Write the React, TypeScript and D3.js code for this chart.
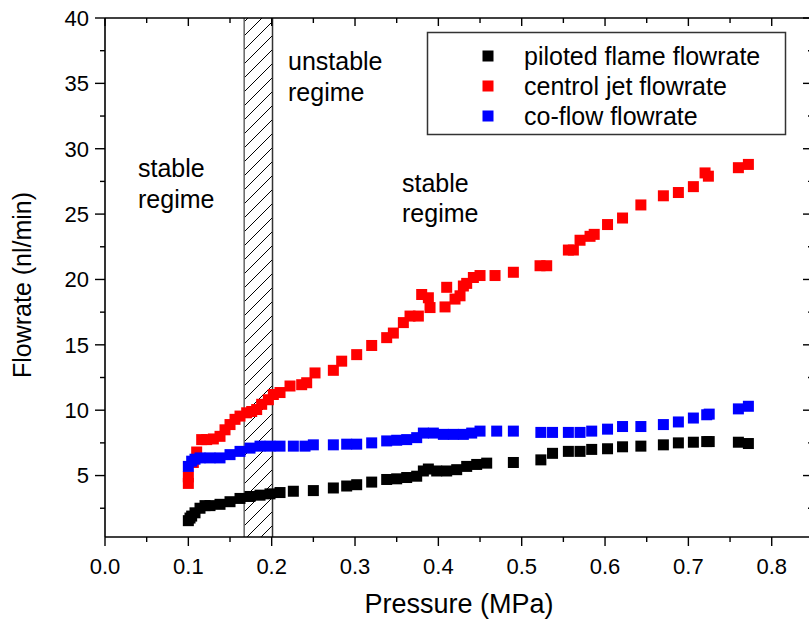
import React from "react";
import * as d3 from "d3";

const xTicks = [0, 0.1, 0.2, 0.3, 0.4, 0.5, 0.6, 0.7, 0.8];
const yTicks = [5, 10, 15, 20, 25, 30, 35, 40];

const pilotP = [0.100, 0.102, 0.104, 0.108, 0.114, 0.120, 0.126, 0.138, 0.150, 0.162, 0.174, 0.186, 0.198, 0.210, 0.226, 0.250, 0.274, 0.290, 0.302, 0.320, 0.338, 0.350, 0.362, 0.374, 0.382, 0.388, 0.398, 0.410, 0.422, 0.434, 0.446, 0.458, 0.490, 0.523, 0.537, 0.556, 0.570, 0.584, 0.603, 0.621, 0.643, 0.670, 0.688, 0.706, 0.722, 0.725, 0.760, 0.772];
const pilotV = [1.55, 1.75, 1.9, 2.15, 2.5, 2.7, 2.7, 2.8, 3.0, 3.25, 3.4, 3.5, 3.6, 3.7, 3.8, 3.85, 4.05, 4.2, 4.3, 4.5, 4.7, 4.75, 4.85, 4.95, 5.35, 5.5, 5.35, 5.35, 5.45, 5.7, 5.85, 5.95, 6.0, 6.2, 6.7, 6.85, 6.85, 7.0, 7.05, 7.2, 7.25, 7.35, 7.5, 7.55, 7.6, 7.6, 7.55, 7.45];

const jetP = [0.100, 0.100, 0.106, 0.110, 0.116, 0.122, 0.130, 0.138, 0.144, 0.150, 0.156, 0.162, 0.170, 0.176, 0.182, 0.188, 0.196, 0.202, 0.210, 0.222, 0.236, 0.242, 0.252, 0.274, 0.284, 0.302, 0.320, 0.338, 0.346, 0.358, 0.366, 0.376, 0.380, 0.388, 0.390, 0.408, 0.410, 0.420, 0.426, 0.430, 0.434, 0.442, 0.450, 0.468, 0.490, 0.522, 0.530, 0.556, 0.562, 0.570, 0.582, 0.587, 0.603, 0.621, 0.643, 0.670, 0.688, 0.706, 0.720, 0.724, 0.760, 0.772];
const jetV = [4.4, 4.9, 6.0, 6.8, 7.75, 7.75, 7.8, 8.0, 8.5, 8.9, 9.3, 9.55, 9.8, 9.9, 10.05, 10.45, 10.8, 11.2, 11.35, 11.85, 11.95, 12.1, 12.85, 13.05, 13.75, 14.25, 14.95, 15.55, 15.9, 16.7, 17.2, 17.2, 18.85, 18.6, 17.85, 17.9, 19.4, 18.5, 18.75, 19.5, 19.7, 20.15, 20.3, 20.3, 20.55, 21.05, 21.05, 22.25, 22.25, 23.0, 23.3, 23.45, 24.2, 24.7, 25.7, 26.4, 26.65, 27.1, 28.15, 27.9, 28.55, 28.8];

const coP = [0.100, 0.104, 0.108, 0.114, 0.126, 0.138, 0.150, 0.162, 0.174, 0.186, 0.198, 0.210, 0.226, 0.240, 0.250, 0.274, 0.290, 0.302, 0.320, 0.338, 0.350, 0.362, 0.374, 0.382, 0.394, 0.406, 0.418, 0.430, 0.440, 0.450, 0.470, 0.490, 0.523, 0.537, 0.556, 0.570, 0.584, 0.603, 0.621, 0.643, 0.670, 0.688, 0.706, 0.722, 0.725, 0.760, 0.772];
const coV = [5.7, 6.1, 6.25, 6.35, 6.35, 6.35, 6.6, 6.85, 7.1, 7.25, 7.25, 7.25, 7.25, 7.25, 7.35, 7.35, 7.4, 7.4, 7.5, 7.65, 7.7, 7.75, 7.9, 8.25, 8.25, 8.15, 8.15, 8.15, 8.25, 8.4, 8.4, 8.4, 8.3, 8.3, 8.3, 8.3, 8.4, 8.55, 8.75, 8.75, 8.9, 9.1, 9.4, 9.65, 9.7, 10.1, 10.3];

const seriesNames = ["piloted flame flowrate", "centrol jet flowrate", "co-flow flowrate"];
const seriesColors = ["#000000", "#ff0000", "#0000ff"];
const unstableRange = [0.167, 0.201];

const FONT = "'Liberation Sans', Arial, Helvetica, sans-serif";

export default function App() {
  const W = 809, H = 626;
  const left = 105, right = 813, top = 18, bottom = 537;
  const x = d3.scaleLinear().domain([0, 0.85]).range([left, left + 0.85 * 833.4]);
  const y = d3.scaleLinear().domain([0.3, 40]).range([bottom, top]);
  const ms = 11;

  const series = [
    { p: pilotP, v: pilotV },
    { p: jetP, v: jetV },
    { p: coP, v: coV },
  ];

  const xMinor = d3.range(0, 0.851, 0.05);
  const yMinor = d3.range(2.5, 40.01, 2.5);

  return (
    <svg width={W} height={H} style={{ position: "absolute", left: 0, top: 0, background: "#fff" }} fontFamily={FONT}>
      <defs>
        <pattern id="hatch" patternUnits="userSpaceOnUse" width={14} height={14}>
          <path d="M0,14 L14,0 M-3,3 L3,-3 M11,17 L17,11" stroke="#000" strokeWidth={1} />
        </pattern>
      </defs>
      <rect x={0} y={0} width={W} height={H} fill="#fff" />

      {/* unstable hatched band */}
      <rect
        x={x(unstableRange[0])}
        y={top}
        width={x(unstableRange[1]) - x(unstableRange[0])}
        height={bottom - top}
        fill="url(#hatch)"
      />
      <line x1={x(unstableRange[0])} x2={x(unstableRange[0])} y1={top} y2={bottom} stroke="#666" strokeWidth={1.5} />
      <line x1={x(unstableRange[1])} x2={x(unstableRange[1])} y1={top} y2={bottom} stroke="#333" strokeWidth={1.5} />

      {/* data */}
      {series.map((s, si) =>
        s.p.map((pv, i) => (
          <rect
            key={`${si}-${i}`}
            x={x(pv) - ms / 2}
            y={y(s.v[i]) - ms / 2}
            width={ms}
            height={ms}
            fill={seriesColors[si]}
          />
        ))
      )}

      {/* axes frame */}
      <line x1={left} x2={right} y1={top} y2={top} stroke="#000" strokeWidth={1.6} />
      <line x1={left} x2={right} y1={bottom} y2={bottom} stroke="#000" strokeWidth={1.6} />
      <line x1={left} x2={left} y1={top} y2={bottom} stroke="#000" strokeWidth={1.6} />
      <line x1={right} x2={right} y1={top} y2={bottom} stroke="#000" strokeWidth={1.6} />

      {/* x ticks */}
      {xMinor.map((t, i) => {
        const major = i % 2 === 0;
        const px = x(t);
        return (
          <g key={`xt${i}`}>
            <line x1={px} x2={px} y1={bottom} y2={bottom + (major ? 9 : 5)} stroke="#000" strokeWidth={1.4} />
            <line x1={px} x2={px} y1={top} y2={top + (major ? 8 : 5)} stroke="#000" strokeWidth={1.4} />
          </g>
        );
      })}
      {xTicks.map((t) => (
        <text key={`xl${t}`} x={x(t)} y={574} textAnchor="middle" fontSize={22} fill="#000">
          {t.toFixed(1)}
        </text>
      ))}

      {/* y ticks */}
      {yMinor.map((t, i) => {
        const major = i % 2 === 1;
        const py = y(t);
        return (
          <g key={`yt${i}`}>
            <line x1={left - (major ? 10 : 5)} x2={left} y1={py} y2={py} stroke="#000" strokeWidth={1.4} />
            <line x1={right - (major ? 10 : 5)} x2={right} y1={py} y2={py} stroke="#000" strokeWidth={1.4} />
          </g>
        );
      })}
      {yTicks.map((t) => (
        <text key={`yl${t}`} x={89} y={y(t)} dy="0.36em" textAnchor="end" fontSize={22} fill="#000">
          {t}
        </text>
      ))}

      {/* axis titles */}
      <text x={(left + right) / 2} y={613} textAnchor="middle" fontSize={27} fill="#000">
        Pressure (MPa)
      </text>
      <text
        transform={`translate(31, ${285}) rotate(-90)`}
        textAnchor="middle"
        fontSize={25}
        fill="#000"
      >
        Flowrate (nl/min)
      </text>

      {/* annotations */}
      <text fontSize={25} fill="#000">
        <tspan x={138} y={177}>stable</tspan>
        <tspan x={138} y={208}>regime</tspan>
      </text>
      <text fontSize={25} fill="#000">
        <tspan x={288} y={70}>unstable</tspan>
        <tspan x={288} y={101}>regime</tspan>
      </text>
      <text fontSize={25} fill="#000">
        <tspan x={402} y={192}>stable</tspan>
        <tspan x={402} y={222}>regime</tspan>
      </text>

      {/* legend */}
      <rect x={427.5} y={32.5} width={358} height={102} fill="#fff" stroke="#333" strokeWidth={1.5} />
      {seriesNames.map((n, i) => (
        <g key={n}>
          <rect x={488 - ms / 2} y={56 + i * 30 - ms / 2} width={ms} height={ms} fill={seriesColors[i]} />
          <text x={524} y={56 + i * 30} dy="0.36em" fontSize={25} fill="#000">
            {n}
          </text>
        </g>
      ))}
    </svg>
  );
}
